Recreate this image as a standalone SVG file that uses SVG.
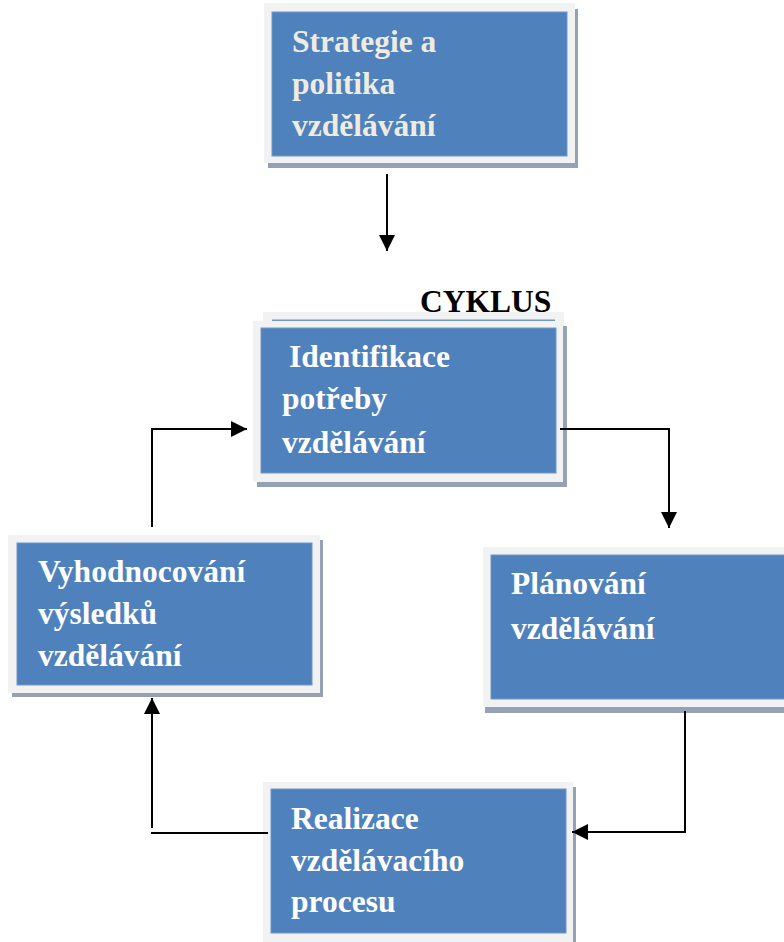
<svg xmlns="http://www.w3.org/2000/svg" width="784" height="942" viewBox="0 0 784 942">
  <style>
    .shadow { fill: #95a1b4; }
    .frame { fill: #f2f2f2; }
    .body { fill: #4f81bd; stroke: #6f97c8; stroke-width: 1; }
    .label { font-family: "Liberation Serif", "Times New Roman", serif; font-weight: bold; font-size: 31.5px; fill: #ffffff; }
    .label.cream { fill: #eeece1; }
    .title { font-family: "Liberation Serif", "Times New Roman", serif; font-weight: bold; font-size: 31.5px; fill: #000000; }
    .wire { fill: none; stroke: #000000; stroke-width: 2; }
  </style>
  <defs>
    <marker id="arrow" viewBox="0 0 16 16" refX="16" refY="8" markerWidth="16" markerHeight="16" markerUnits="userSpaceOnUse" orient="auto">
      <path d="M0,0 L16,8 L0,16 Z" fill="#000000"/>
    </marker>
  </defs>

  <rect width="784" height="942" fill="#ffffff"/>

  <!-- Strategy node -->
  <g id="strategie">
    <rect class="shadow" x="268" y="9" width="310" height="159"/>
    <rect class="frame" x="264" y="3" width="311" height="160"/>
    <rect class="body" x="272" y="12" width="295" height="144"/>
    <text class="label cream" x="292" y="52">Strategie a</text>
    <text class="label cream" x="292" y="94">politika</text>
    <text class="label cream" x="292" y="136">vzdělávání</text>
  </g>

  <text id="cyklus" class="title" x="420" y="312">CYKLUS</text>

  <!-- Needs identification node (stacked look) -->
  <g id="identifikace">
    <rect class="frame" x="263" y="312" width="301" height="160"/>
    <rect fill="#6f97c8" x="272" y="319.5" width="283" height="1.5"/>
    <rect class="shadow" x="257" y="326" width="310" height="161"/>
    <rect class="frame" x="253" y="321" width="310" height="161"/>
    <rect class="body" x="261" y="328" width="295" height="145"/>
    <text class="label" x="289" y="367">Identifikace</text>
    <text class="label" x="282" y="409">potřeby</text>
    <text class="label" x="282" y="453">vzdělávání</text>
  </g>

  <!-- Evaluation node -->
  <g id="vyhodnocovani">
    <rect class="shadow" x="12" y="540" width="311" height="157"/>
    <rect class="frame" x="8" y="535" width="312" height="158"/>
    <rect class="body" x="17" y="543" width="295" height="142"/>
    <text class="label" x="38" y="582">Vyhodnocování</text>
    <text class="label" x="38" y="624">výsledků</text>
    <text class="label" x="38" y="666">vzdělávání</text>
  </g>

  <!-- Planning node -->
  <g id="planovani">
    <rect class="shadow" x="485" y="552" width="310" height="161"/>
    <rect class="frame" x="483" y="547" width="310" height="160"/>
    <rect class="body" x="491" y="555" width="300" height="144"/>
    <text class="label" x="511" y="594">Plánování</text>
    <text class="label" x="511" y="639">vzdělávání</text>
  </g>

  <!-- Implementation node -->
  <g id="realizace">
    <rect class="shadow" x="266" y="787" width="310" height="165"/>
    <rect class="frame" x="263" y="782" width="310" height="165"/>
    <rect class="body" x="271" y="789" width="295" height="144"/>
    <text class="label" x="291" y="829">Realizace</text>
    <text class="label" x="291" y="871">vzdělávacího</text>
    <text class="label" x="291" y="912">procesu</text>
  </g>

  <!-- Connectors -->
  <g id="connectors">
    <path class="wire" d="M387,174 V251" marker-end="url(#arrow)"/>
    <path class="wire" d="M560,429 H669 V528" marker-end="url(#arrow)"/>
    <path class="wire" d="M685,711 V832 H572" marker-end="url(#arrow)"/>
    <path class="wire" d="M268,833 H151"/>
    <path class="wire" d="M152,828 V698" marker-end="url(#arrow)"/>
    <path class="wire" d="M152,527 V429 H247" marker-end="url(#arrow)"/>
  </g>
</svg>
